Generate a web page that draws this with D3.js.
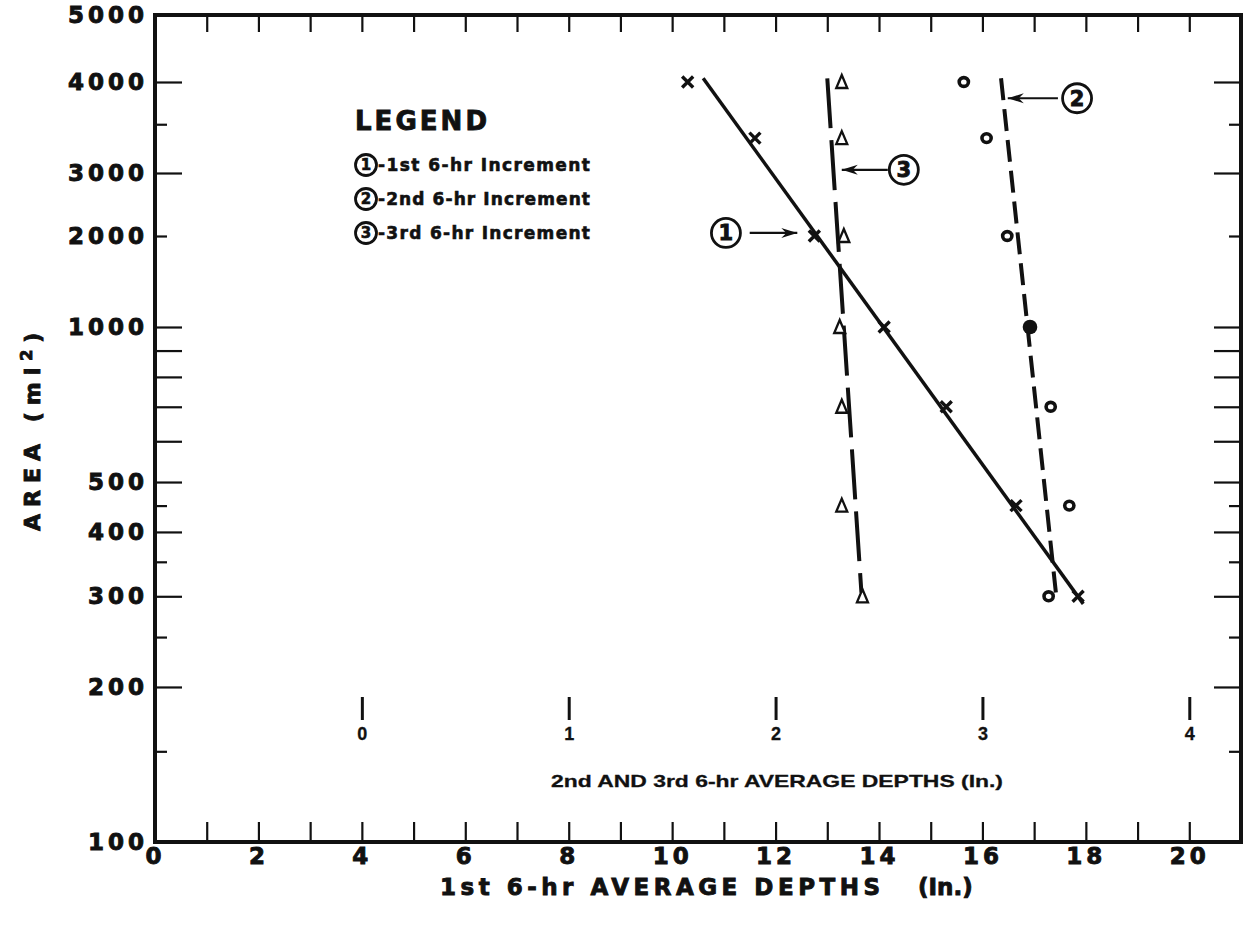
<!DOCTYPE html>
<html><head><meta charset="utf-8">
<script src="https://cdn.jsdelivr.net/npm/d3@7"></script>
<style>
body{margin:0;background:#fff;}
svg{display:block;}
.heavy{font-family:"DejaVu Sans",sans-serif;font-weight:bold;fill:#111;stroke:#111;stroke-width:0.9px;}
.heavys{font-family:"DejaVu Sans",sans-serif;font-weight:bold;fill:#111;stroke:#111;stroke-width:0.6px;}
.narrow{font-family:"Liberation Sans Narrow","Liberation Sans",sans-serif;font-weight:bold;fill:#111;stroke:#111;stroke-width:0.3px;}
</style></head>
<body><svg id="c" width="1253" height="926"></svg>
<script>
// ---------- data ----------
const areas = [4000, 3350, 2000, 1000, 700, 450, 300];
const firstDepths = [10.3, 11.6, 12.75, 14.1, 15.3, 16.65, 17.85];   // x marks, lower axis
const secondDepths = [2.91, 3.02, 3.12, 3.23, 3.33, 3.42, 3.32];    // o marks, inner axis
const secondFilled = [false, false, false, true, false, false, false];
const thirdDepths = [2.32, 2.32, 2.33, 2.31, 2.32, 2.32, 2.42];     // triangles, inner axis

const line1Depths = [10.6, 17.95], line1Areas = [4050, 290];
const line2Depths = [3.09, 3.355], line2Areas = [4050, 305];
const line3Depths = [2.25, 2.415], line3Areas = [4050, 305];

const xTickLabels = [0, 2, 4, 6, 8, 10, 12, 14, 16, 18, 20];
const xTicks = d3.range(1, 21);
const yTickLabels = [100, 200, 300, 400, 500, 1000, 2000, 3000, 4000, 5000];
const yLongTicks = [200, 300, 400, 500, 600, 700, 800, 900, 1000, 3000, 4000];
const yShortTicks = [150, 250, 350, 450, 2000, 3500];
const innerTicks = [0, 1, 2, 3, 4];

const calloutLabels = ["1", "3", "2"];
const calloutDepths = [11.04, 14.48, 17.83];
const calloutAreas = [2040, 3030, 3800];
const arrowFrom = [11.5, 14.17, 17.46];
const arrowTo = [12.42, 13.28, 16.49];

const legendLabels = ["1", "2", "3"];
const legendTexts = ["-1st 6-hr Increment", "-2nd 6-hr Increment", "-3rd 6-hr Increment"];

// ---------- scales ----------
const L = 155, R = 1241, T = 15, B = 842;
const x = d3.scaleLinear().domain([0, 21]).range([L, R]);
const xIn = d3.scaleLinear().domain([-1, 4.25]).range([L, R]);
const y = d3.scaleLog().domain([100, 1000, 2000, 3000, 4000, 5000]).range([B, 327, 236, 173, 82, T]);

const svg = d3.select("#c");
svg.append("rect").attr("width", 1253).attr("height", 926).attr("fill", "#fff");

function styleAxis(g, w) {
  g.select(".domain").remove();
  g.selectAll(".tick line").attr("stroke", "#111").attr("stroke-width", w);
}

// y labels
const yl = svg.append("g").attr("transform", `translate(${L},0)`)
  .call(d3.axisLeft(y).tickValues(yTickLabels).tickSize(0).tickPadding(7).tickFormat(d3.format("d")));
styleAxis(yl, 0);
yl.selectAll("text").attr("class", "heavy").attr("font-size", 23).attr("letter-spacing", 4);

// y ticks left & right
[[yLongTicks, 27], [yShortTicks, 12]].forEach(([vals, len]) => {
  const gl = svg.append("g").attr("transform", `translate(${L},0)`)
    .call(d3.axisRight(y).tickValues(vals).tickSize(len).tickFormat(""));
  styleAxis(gl, 2.2);
  const gr = svg.append("g").attr("transform", `translate(${R},0)`)
    .call(d3.axisLeft(y).tickValues(vals).tickSize(len).tickFormat(""));
  styleAxis(gr, 2.2);
});

// x labels
const xl = svg.append("g").attr("transform", `translate(0,${B})`)
  .call(d3.axisBottom(x).tickValues(xTickLabels).tickSize(0).tickPadding(6));
styleAxis(xl, 0);
xl.selectAll("text").attr("class", "heavy").attr("font-size", 23).attr("letter-spacing", 4);

// x ticks bottom (up) and top (down)
const xb = svg.append("g").attr("transform", `translate(0,${B})`)
  .call(d3.axisTop(x).tickValues(xTicks).tickSize(20).tickFormat(""));
styleAxis(xb, 2.2);
const xt = svg.append("g").attr("transform", `translate(0,${T})`)
  .call(d3.axisBottom(x).tickValues(xTicks).tickSize(17).tickFormat(""));
styleAxis(xt, 2.2);

// frame
svg.append("rect").attr("x", L).attr("y", T).attr("width", R - L).attr("height", B - T)
  .attr("fill", "none").attr("stroke", "#111").attr("stroke-width", 4);

// inner axis (2nd and 3rd depths)
const xi = svg.append("g").attr("transform", `translate(0,697)`)
  .call(d3.axisBottom(xIn).tickValues(innerTicks).tickSize(23).tickPadding(7).tickFormat(d3.format("d")));
styleAxis(xi, 3);
xi.selectAll("text").attr("class", "narrow").attr("font-size", 18);

svg.append("text").attr("class", "narrow").attr("x", 551).attr("y", 787)
  .attr("font-size", 17).attr("textLength", 452).attr("lengthAdjust", "spacingAndGlyphs")
  .text("2nd AND 3rd 6-hr AVERAGE DEPTHS (In.)");

// axis titles
svg.append("text").attr("class", "heavy").attr("x", 440).attr("y", 895).attr("font-size", 23)
  .attr("textLength", 440).text("1st 6-hr AVERAGE DEPTHS");
svg.append("text").attr("class", "heavy").attr("x", 918).attr("y", 895).attr("font-size", 23)
  .text("(In.)");

const yt = svg.append("text").attr("class", "heavy").attr("font-size", 22).attr("letter-spacing", 7)
  .attr("transform", "translate(40,531) rotate(-90)").attr("x", 0).attr("y", 0);
yt.append("tspan").text("AREA  (mi");
yt.append("tspan").attr("font-size", 16).attr("dy", -8).text("2");
yt.append("tspan").attr("dy", 8).text(")");

// lines
const lineGen = d3.line().x(d => d[0]).y(d => d[1]);
const l1 = line1Depths.map((d, i) => [x(d), y(line1Areas[i])]);
const l2 = line2Depths.map((d, i) => [xIn(d), y(line2Areas[i])]);
const l3 = line3Depths.map((d, i) => [xIn(d), y(line3Areas[i])]);
svg.append("path").attr("d", lineGen(l1)).attr("stroke", "#111").attr("stroke-width", 3.5).attr("fill", "none");
svg.append("path").attr("d", lineGen(l2)).attr("stroke", "#111").attr("stroke-width", 4).attr("fill", "none")
  .attr("stroke-dasharray", "22,9");
svg.append("path").attr("d", lineGen(l3)).attr("stroke", "#111").attr("stroke-width", 4).attr("fill", "none")
  .attr("stroke-dasharray", "50,12");

// markers
areas.forEach((a, i) => {
  const cx = x(firstDepths[i]), cy = y(a), s = 5.5;
  svg.append("path").attr("d", `M${cx - s},${cy - s}L${cx + s},${cy + s}M${cx - s},${cy + s}L${cx + s},${cy - s}`)
    .attr("stroke", "#111").attr("stroke-width", 3.4).attr("fill", "none");
});
areas.forEach((a, i) => {
  const cx = xIn(thirdDepths[i]), cy = y(a);
  svg.append("path").attr("d", `M${cx},${cy - 7}L${cx + 5.5},${cy + 6}L${cx - 5.5},${cy + 6}Z`)
    .attr("stroke", "#111").attr("stroke-width", 2.3).attr("fill", "#fff");
});
areas.forEach((a, i) => {
  const cx = xIn(secondDepths[i]), cy = y(a);
  if (secondFilled[i]) {
    svg.append("circle").attr("cx", cx).attr("cy", cy).attr("r", 7.3).attr("fill", "#111");
  } else {
    svg.append("ellipse").attr("cx", cx).attr("cy", cy).attr("rx", 4.6).attr("ry", 4.4)
      .attr("fill", "#fff").attr("stroke", "#111").attr("stroke-width", 3.6);
  }
});

// callouts
const defs = svg.append("defs");
defs.append("marker").attr("id", "ah").attr("viewBox", "-16 -6 18 12").attr("refX", 0).attr("refY", 0)
  .attr("markerWidth", 18).attr("markerHeight", 12).attr("markerUnits", "userSpaceOnUse").attr("orient", "auto")
  .append("path").attr("d", "M0,0L-16,-5L-11,0L-16,5Z").attr("fill", "#111");

function circled(cx, cy, r, label, fs, cls) {
  svg.append("circle").attr("cx", cx).attr("cy", cy).attr("r", r).attr("fill", "#fff")
    .attr("stroke", "#111").attr("stroke-width", 2.8);
  svg.append("text").attr("class", cls).attr("x", cx).attr("y", cy).attr("dy", "0.36em")
    .attr("text-anchor", "middle").attr("font-size", fs).text(label);
}
calloutLabels.forEach((lab, i) => {
  const cy = y(calloutAreas[i]);
  svg.append("line").attr("x1", x(arrowFrom[i])).attr("x2", x(arrowTo[i])).attr("y1", cy).attr("y2", cy)
    .attr("stroke", "#111").attr("stroke-width", 2.2).attr("marker-end", "url(#ah)");
  circled(x(calloutDepths[i]), cy, 14.5, lab, 21, "heavy");
});

// legend
svg.append("text").attr("class", "heavy").attr("x", 355).attr("y", 130).attr("font-size", 26)
  .attr("textLength", 132).text("LEGEND");
legendLabels.forEach((lab, i) => {
  const cy = 165 + i * 34;
  circled(366, cy, 10.5, lab, 15, "heavys");
  svg.append("text").attr("class", "heavys").attr("x", 378).attr("y", cy).attr("dy", "0.36em")
    .attr("font-size", 17).attr("textLength", 212).text(legendTexts[i]);
});
</script>
</body></html>
